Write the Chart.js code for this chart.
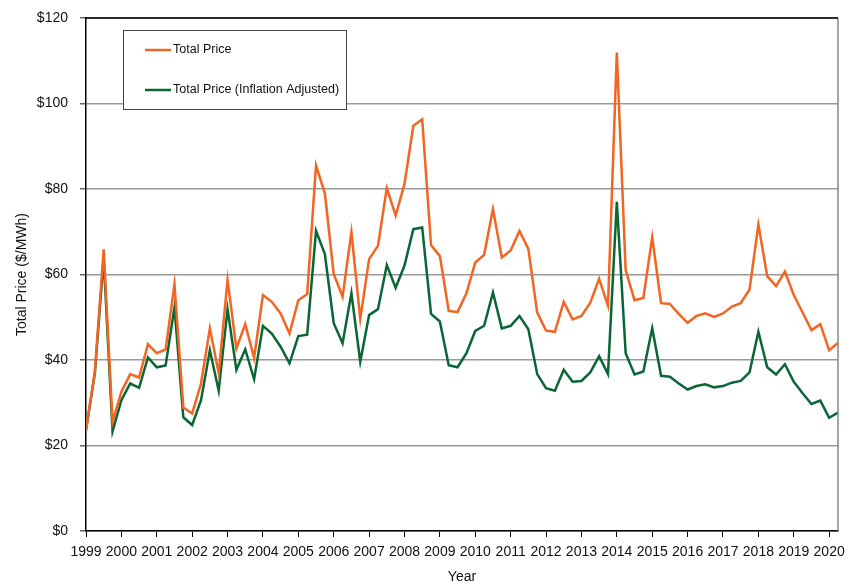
<!DOCTYPE html>
<html>
<head>
<meta charset="utf-8">
<script src="https://cdn.jsdelivr.net/npm/chart.js@4"></script>
<style>
  html, body { margin: 0; padding: 0; background: #fff; }
  #wrap { width: 848px; height: 583px; }
</style>
</head>
<body>
<div id="wrap"><canvas id="priceChart" width="848" height="583"></canvas></div>
<script>
// quarterly series, 1999 Q1 .. 2020 Q2
const startYear = 1999;
const yearTicks = [1999, 2000, 2001, 2002, 2003, 2004, 2005, 2006, 2007, 2008, 2009,
  2010, 2011, 2012, 2013, 2014, 2015, 2016, 2017, 2018, 2019, 2020];
const priceTicks = [0, 20, 40, 60, 80, 100, 120];

const totalPrice = [
  23.6, 37.3, 65.9, 25.5, 32.6, 36.7, 35.9, 43.7, 41.6, 42.5, 57.7, 28.9,
  27.5, 34.5, 47.4, 36.9, 58.7, 42.7, 48.4, 40.5, 55.2, 53.6, 50.9, 46.2,
  54.0, 55.4, 85.5, 79.0, 60.1, 54.8, 69.9, 49.6, 63.6, 66.7, 80.2, 73.8,
  81.2, 94.8, 96.3, 66.9, 64.3, 51.5, 51.2, 55.6, 62.8, 64.6, 75.3, 64.0,
  65.6, 70.2, 66.0, 51.1, 46.9, 46.6, 53.6, 49.5, 50.3, 53.4, 59.0, 52.7,
  111.9, 61.0, 54.0, 54.5, 68.7, 53.3, 53.1, 50.8, 48.7, 50.3, 50.9, 50.1,
  50.9, 52.5, 53.3, 56.5, 71.7, 59.6, 57.3, 60.7, 55.2, 51.1, 47.0, 48.4,
  42.3, 44.0
];
const inflationAdjusted = [
  23.6, 36.9, 63.8, 23.3, 30.6, 34.5, 33.5, 40.6, 38.3, 38.7, 52.3, 26.6,
  24.8, 30.6, 42.3, 32.8, 51.9, 37.7, 42.5, 35.5, 48.0, 46.2, 43.1, 39.2,
  45.6, 45.9, 70.2, 64.8, 48.6, 43.9, 55.6, 39.6, 50.5, 51.9, 62.2, 56.9,
  62.1, 70.6, 71.0, 50.8, 49.0, 38.8, 38.3, 41.6, 46.8, 48.0, 55.8, 47.4,
  48.0, 50.3, 47.2, 36.7, 33.4, 32.8, 37.7, 34.9, 35.1, 37.1, 40.9, 36.7,
  77.0, 41.6, 36.6, 37.3, 47.4, 36.3, 36.1, 34.5, 33.1, 33.9, 34.3, 33.6,
  33.9, 34.7, 35.1, 37.1, 46.6, 38.3, 36.6, 39.0, 34.9, 32.2, 29.7, 30.5,
  26.5, 27.7
];

const FONT = "'Liberation Sans', Arial, sans-serif";

function toPoints(values) {
  return values.map((v, i) => ({x: startYear + i / 4, y: v}));
}

// legend box inside the plot + top/right frame lines
const frameAndLegend = {
  id: 'frameAndLegend',
  afterDraw(chart) {
    const ctx = chart.ctx;
    const a = chart.chartArea;
    ctx.save();
    ctx.lineWidth = 1.5;
    ctx.strokeStyle = '#888';
    ctx.beginPath();
    ctx.moveTo(a.right, a.top);
    ctx.lineTo(a.right, a.bottom);
    ctx.stroke();
    ctx.strokeStyle = '#000';
    ctx.beginPath();
    ctx.moveTo(a.left, a.top);
    ctx.lineTo(a.right, a.top);
    ctx.stroke();

    // legend
    const bx = 123, by = 30, bw = 223, bh = 79;
    ctx.fillStyle = '#fff';
    ctx.fillRect(bx, by, bw, bh);
    ctx.lineWidth = 1;
    ctx.strokeStyle = '#444';
    ctx.strokeRect(bx + 0.5, by + 0.5, bw, bh);
    ctx.font = '12.5px ' + FONT;
    ctx.textBaseline = 'middle';
    chart.data.datasets.forEach((ds, i) => {
      const y = by + 20 + i * 40;
      ctx.strokeStyle = ds.borderColor;
      ctx.lineWidth = 2.5;
      ctx.beginPath();
      ctx.moveTo(145, y);
      ctx.lineTo(171, y);
      ctx.stroke();
      ctx.fillStyle = '#111';
      ctx.fillText(ds.label, 173, y);
    });
    ctx.restore();
  }
};

const ctx = document.getElementById('priceChart').getContext('2d');
new Chart(ctx, {
  type: 'line',
  data: {
    datasets: [
      {
        label: 'Total Price',
        data: toPoints(totalPrice),
        borderColor: '#f26522',
        borderWidth: 2.5,
        pointRadius: 0,
        tension: 0
      },
      {
        label: 'Total Price (Inflation Adjusted)',
        data: toPoints(inflationAdjusted),
        borderColor: '#0a6635',
        borderWidth: 2.5,
        pointRadius: 0,
        tension: 0
      }
    ]
  },
  options: {
    responsive: false,
    animation: false,
    layout: { padding: { top: 18, right: 10, bottom: 0, left: 0 } },
    plugins: {
      legend: { display: false },
      tooltip: { enabled: false }
    },
    scales: {
      x: {
        type: 'linear',
        min: startYear,
        max: startYear + (totalPrice.length - 1) / 4,
        afterBuildTicks: (scale) => { scale.ticks = yearTicks.map(v => ({value: v})); },
        afterFit: (scale) => {
          scale.height = 52;
          scale.paddingLeft = 0;
          scale.paddingRight = 0;
        },
        grid: { display: true, drawOnChartArea: false, tickLength: 6, tickColor: '#000' },
        border: { display: true, color: '#000', width: 1.5 },
        ticks: {
          autoSkip: false,
          maxRotation: 0,
          minRotation: 0,
          padding: 7,
          color: '#111',
          font: { family: FONT, size: 14 },
          callback: (v) => String(v)
        },
        title: {
          display: true,
          text: 'Year',
          color: '#111',
          font: { family: FONT, size: 14 },
          padding: { top: 0, bottom: -3 }
        }
      },
      y: {
        min: 0,
        max: 120,
        afterBuildTicks: (scale) => { scale.ticks = priceTicks.map(v => ({value: v})); },
        afterFit: (scale) => {
          scale.width = 86;
          scale.paddingTop = 0;
          scale.paddingBottom = 0;
        },
        grid: { color: '#999', lineWidth: 1.5, tickLength: 6, tickColor: '#666' },
        border: { display: true, color: '#000', width: 1.5 },
        ticks: {
          padding: 12,
          color: '#111',
          font: { family: FONT, size: 14 },
          callback: (v) => '$' + v
        },
        title: {
          display: true,
          text: 'Total Price ($/MWh)',
          color: '#111',
          font: { family: FONT, size: 14 },
          padding: { top: 14, bottom: 0 }
        }
      }
    }
  },
  plugins: [frameAndLegend]
});
</script>
</body>
</html>
